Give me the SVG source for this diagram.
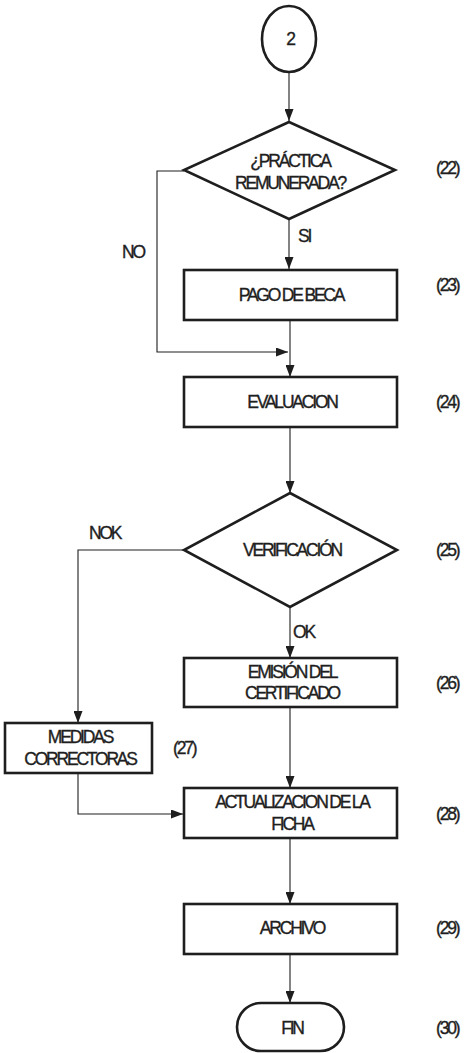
<svg xmlns="http://www.w3.org/2000/svg" width="464" height="1053" viewBox="0 0 464 1053">
<style>
.n{fill:#fff;stroke:#1e1e1e;stroke-width:2.6}
.c{fill:none;stroke:#1e1e1e;stroke-width:1.1}
text{font-family:"Liberation Sans",Arial,sans-serif;font-size:17.5px;fill:#1e1e1e;stroke:#1e1e1e;stroke-width:0.35;letter-spacing:-2.2px}
.m{text-anchor:middle}
</style>
<defs>
<marker id="ah" viewBox="0 0 12 9" refX="12" refY="4.5" markerWidth="12" markerHeight="9" markerUnits="userSpaceOnUse" orient="auto">
<path d="M0,0 L12,4.5 L0,9 Z" fill="#1e1e1e"/>
</marker>
</defs>
<rect width="464" height="1053" fill="#fff"/>
<g id="connectors">
<line class="c" x1="289" y1="72" x2="289" y2="121" marker-end="url(#ah)"/>
<line class="c" x1="289" y1="220" x2="289" y2="269" marker-end="url(#ah)"/>
<polyline class="c" points="184,171 157,171 157,352 288,352" marker-end="url(#ah)"/>
<line class="c" x1="290" y1="320" x2="290" y2="377" marker-end="url(#ah)"/>
<line class="c" x1="290" y1="427" x2="290" y2="493" marker-end="url(#ah)"/>
<polyline class="c" points="184,550 78,550 78,723" marker-end="url(#ah)"/>
<line class="c" x1="290" y1="607" x2="290" y2="658" marker-end="url(#ah)"/>
<line class="c" x1="290" y1="707" x2="290" y2="788" marker-end="url(#ah)"/>
<polyline class="c" points="78,773 78,814 183,814" marker-end="url(#ah)"/>
<line class="c" x1="290" y1="838" x2="290" y2="904" marker-end="url(#ah)"/>
<line class="c" x1="290" y1="954" x2="290" y2="1003" marker-end="url(#ah)"/>
<text x="122" y="258">NO</text>
<text x="298" y="242">SI</text>
<text x="89" y="539">NOK</text>
<text x="293" y="638">OK</text>
</g>
<g id="start">
<ellipse class="n" cx="289" cy="39" rx="27" ry="33"/>
<text class="m" x="290" y="45">2</text>
</g>
<g id="n22">
<polygon class="n" points="289,122 395,170 289,219 184,170"/>
<text class="m" x="290" y="167">¿PRÁCTICA</text>
<text class="m" x="290" y="189">REMUNERADA?</text>
<text x="436" y="174">(22)</text>
</g>
<g id="n23">
<rect class="n" x="184" y="270" width="213" height="50"/>
<text class="m" x="291" y="301">PAGO DE BECA</text>
<text x="436" y="291">(23)</text>
</g>
<g id="n24">
<rect class="n" x="184" y="377" width="213" height="50"/>
<text class="m" x="292" y="408">EVALUACION</text>
<text x="436" y="408">(24)</text>
</g>
<g id="n25">
<polygon class="n" points="290,493 397,550 290,607 184,550"/>
<text class="m" x="292" y="556">VERIFICACIÓN</text>
<text x="436" y="556">(25)</text>
</g>
<g id="n26">
<rect class="n" x="184" y="658" width="213" height="49"/>
<text class="m" x="292" y="678">EMISIÓN DEL</text>
<text class="m" x="292" y="699">CERTIFICADO</text>
<text x="436" y="689">(26)</text>
</g>
<g id="n27">
<rect class="n" x="5" y="723" width="147" height="50"/>
<text class="m" x="80" y="743">MEDIDAS</text>
<text class="m" x="80" y="765">CORRECTORAS</text>
<text x="173" y="754">(27)</text>
</g>
<g id="n28">
<rect class="n" x="184" y="788" width="213" height="50"/>
<text class="m" x="292" y="808">ACTUALIZACION DE LA</text>
<text class="m" x="292" y="830">FICHA</text>
<text x="436" y="820">(28)</text>
</g>
<g id="n29">
<rect class="n" x="184" y="904" width="213" height="50"/>
<text class="m" x="292" y="934">ARCHIVO</text>
<text x="436" y="934">(29)</text>
</g>
<g id="n30">
<rect class="n" x="237" y="1003" width="107" height="48" rx="24" ry="24"/>
<text class="m" x="292" y="1034">FIN</text>
<text x="436" y="1034">(30)</text>
</g>
</svg>
